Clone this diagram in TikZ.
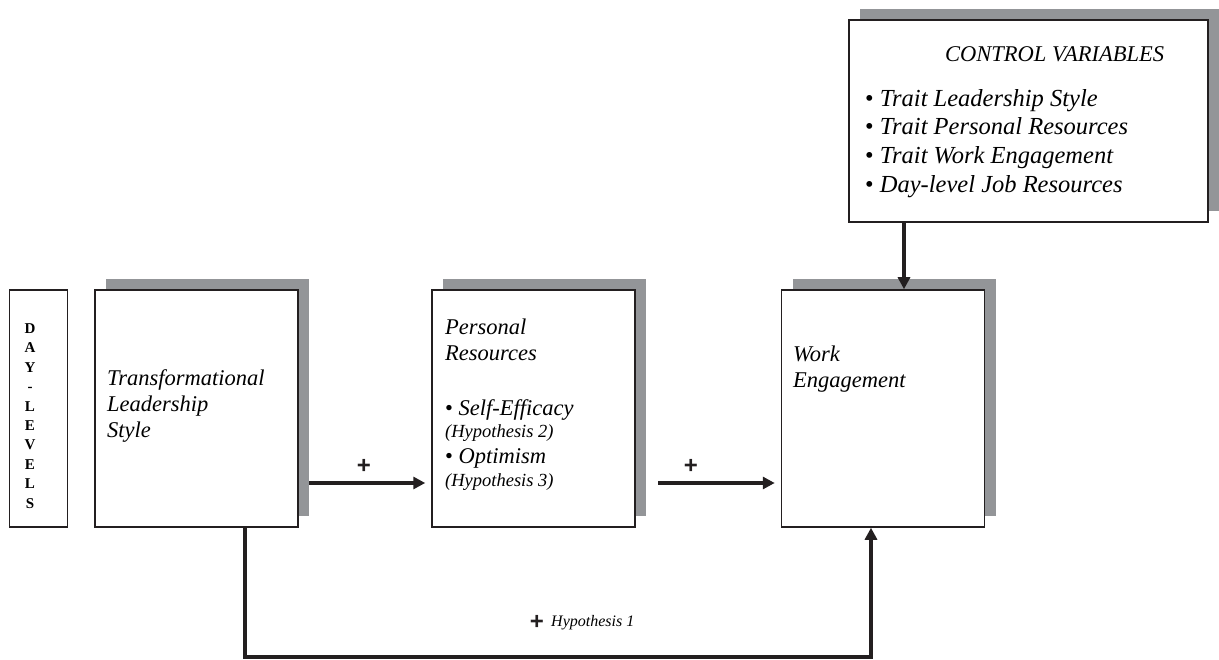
\documentclass[tikz,border=0pt]{standalone}
\usepackage{fontspec}
\setmainfont{Liberation Serif}
\newfontfamily\plusfont{Liberation Sans}
\usetikzlibrary{arrows.meta,shadows}
\definecolor{shadowgray}{HTML}{939598}
\definecolor{linegray}{HTML}{231F20}
\tikzset{
  box/.style={draw=linegray, line width=1.5pt, fill=white, minimum width=203pt, minimum height=237pt, inner sep=0pt,
    drop shadow={shadow xshift=11pt, shadow yshift=11pt, fill=shadowgray, opacity=1}},
  plainbox/.style={draw=linegray, line width=1.5pt, fill=white, inner sep=0pt},
  arr/.style={draw=linegray, line width=3.6pt, -{Triangle[length=12pt,width=12pt]}},
  bigtxt/.style={font=\fontsize{22.5}{26}\selectfont\itshape, anchor=base west, inner sep=0pt, align=left},
  smalltxt/.style={font=\fontsize{18.5}{20}\selectfont\itshape, anchor=base west, inner sep=0pt},
  ctrltitle/.style={font=\fontsize{22.5}{24}\selectfont\itshape, anchor=base west, inner sep=0pt},
  ctrltxt/.style={font=\fontsize{24.5}{28}\selectfont\itshape, anchor=base west, inner sep=0pt},
  plus/.style={font=\fontsize{24}{24}\selectfont\bfseries\plusfont, inner sep=0pt, text=linegray},
  daytxt/.style={font=\fontsize{15}{19.4}\selectfont\bfseries, inner sep=0pt, align=center}
}
\begin{document}
\begin{tikzpicture}[x=1pt,y=-1pt]
\useasboundingbox (0,0) rectangle (1219,660);
% boxes
\node[plainbox, minimum width=58pt, minimum height=237pt] (day) at (38.5,408.5) {};
\node[daytxt] (daylbl) at (30,416) {D\\A\\Y\\-\\L\\E\\V\\E\\L\\S};
\node[box] (tl) at (196.5,408.5) {};
\node[box] (pr) at (533.5,408.5) {};
\node[box] (we) at (883,408.5) {};
\node[box, minimum width=359pt, minimum height=202pt] (cv) at (1028.5,121) {};
% texts
\node[bigtxt] (t1) at (107,386) {Transformational};
\node[bigtxt] (t2) at (107,411) {Leadership};
\node[bigtxt] (t3) at (107,437) {Style};
\node[bigtxt] (p1) at (445,335) {Personal};
\node[bigtxt] (p2) at (445,361) {Resources};
\node[bigtxt] (p3) at (445,415) {\textup{\char"2022} Self-Efficacy};
\node[smalltxt] (p4) at (445,438) {(Hypothesis 2)};
\node[bigtxt] (p5) at (445,464) {\textup{\char"2022} Optimism};
\node[smalltxt] (p6) at (445,486) {(Hypothesis 3)};
\node[bigtxt] (w1) at (793,362) {Work};
\node[bigtxt] (w2) at (793,388) {Engagement};
\node[ctrltitle] (c0) at (945,62) {CONTROL VARIABLES};
\node[ctrltxt] (c1) at (865,107) {\textup{\char"2022} Trait Leadership Style};
\node[ctrltxt] (c2) at (865,135) {\textup{\char"2022} Trait Personal Resources};
\node[ctrltxt] (c3) at (865,164) {\textup{\char"2022} Trait Work Engagement};
\node[ctrltxt] (c4) at (865,193) {\textup{\char"2022} Day-level Job Resources};
% connectors
\coordinate (a1s) at (309,483);
\coordinate (a1e) at (pr.west |- a1s);
\draw[arr, shorten >=6pt] (a1s) -- (a1e);
\coordinate (a2s) at (658,483);
\coordinate (a2e) at (we.west |- a2s);
\draw[arr, shorten >=6pt] (a2s) -- (a2e);
\coordinate (cvb) at (904,0);
\draw[arr] (cv.south -| cvb) -- (we.north -| cvb);
\coordinate (bl) at (245,657);
\coordinate (br) at (871,657);
\draw[arr] (tl.south -| bl) -- (bl) -- (br) -- (we.south -| br);
\node[plus] (pl1) at (364,466) {+};
\node[plus] (pl2) at (691,466) {+};
\node[plus] (pl3) at (537,622) {+};
\node[font=\fontsize{16}{16}\selectfont\itshape, anchor=west, inner sep=0pt] (h1) at (551,623) {Hypothesis 1};
\end{tikzpicture}
\end{document}
